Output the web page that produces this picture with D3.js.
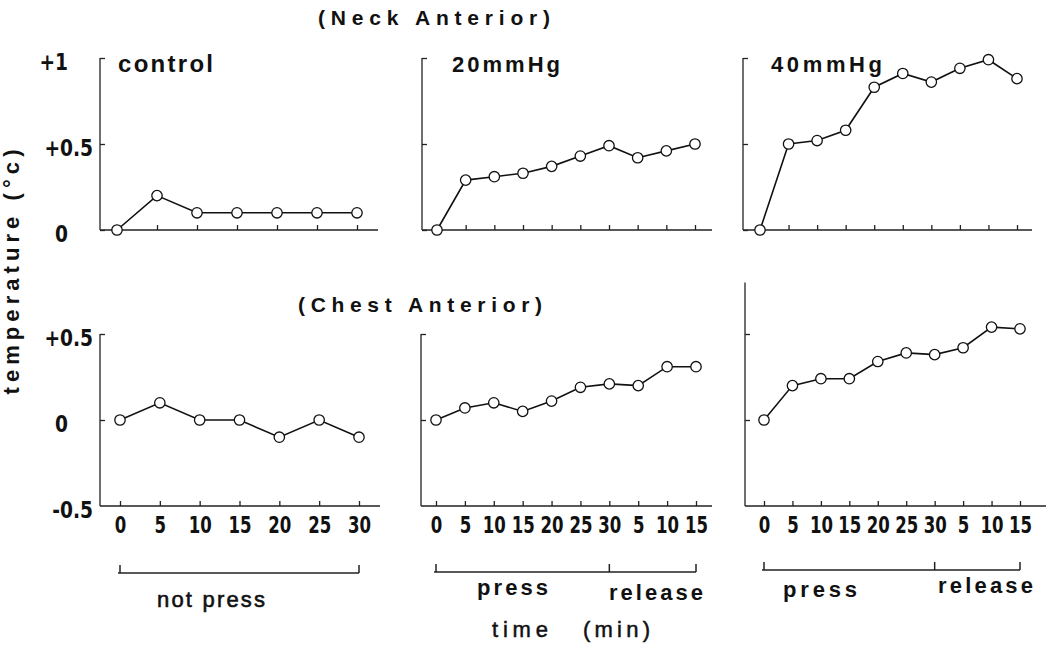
<!DOCTYPE html>
<html>
<head>
<meta charset="utf-8">
<script src="https://cdn.jsdelivr.net/npm/d3@7"></script>
<style>
  body { margin: 0; background: #fff; }
  text { font-family: "DejaVu Sans Condensed", "Liberation Sans", sans-serif; font-weight: bold; fill: #111; }
  .helv { font-family: "Liberation Sans", Arial, sans-serif; }
</style>
</head>
<body>
<div id="chart"></div>
<script>
// time ticks
const controlTimes = ["0","5","10","15","20","25","30"];
const pressTimes = ["0","5","10","15","20","25","30","5","10","15"];
const panelNames = ["control","20mmHg","40mmHg"];
const topTickLabels = ["0","+0.5","+1"];
const topTickValues = [0,0.5,1];
const bottomTickLabels = ["-0.5","0","+0.5"];
const bottomTickValues = [-0.5,0,0.5];

// neck anterior
const neckControl = [0,0.2,0.1,0.1,0.1,0.1,0.1];
const neck20 = [0,0.29,0.31,0.33,0.37,0.43,0.49,0.42,0.46,0.5];
const neck40 = [0,0.5,0.52,0.58,0.83,0.91,0.86,0.94,0.99,0.88];
// chest anterior
const chestControl = [0,0.1,0,0,-0.1,0,-0.1];
const chest20 = [0,0.07,0.1,0.05,0.11,0.19,0.21,0.2,0.31,0.31];
const chest40 = [0,0.2,0.24,0.24,0.34,0.39,0.38,0.42,0.54,0.53];

const w=1046, h=646;
const svg=d3.select("#chart").append("svg").attr("width", w).attr("height", h);
svg.append("rect").attr("width", w).attr("height", h).attr("fill", "#fff");

const yTop=d3.scaleLinear().domain([0,1]).range([230,58]);
const yBot=d3.scaleLinear().domain([-0.5,0.5]).range([506,334]);

const panels=[
  {row:"top", data:neckControl, times:controlTimes, ax:100, x0:117, x1:357, end:378, yTopVal:1},
  {row:"top", data:neck20, times:pressTimes, ax:422, x0:437, x1:695, end:712, yTopVal:1},
  {row:"top", data:neck40, times:pressTimes, ax:743, x0:760, x1:1017, end:1032, yTopVal:1},
  {row:"bot", data:chestControl, times:controlTimes, ax:100, x0:120, x1:359, end:380, yTopVal:0.5, by:573},
  {row:"bot", data:chest20, times:pressTimes, ax:421, x0:436, x1:696, end:712, yTopVal:0.5, by:572},
  {row:"bot", data:chest40, times:pressTimes, ax:745, x0:764, x1:1020, end:1046, yTopVal:0.8, by:570}
];

// label helper: fixed width text, spread by letter spacing
function label(x, y, txt, len, size, cls, adjust){
  return svg.append("text").attr("x",x).attr("y",y).attr("font-size",size)
    .attr("class",cls||null)
    .attr("textLength",len).attr("lengthAdjust",adjust||"spacing").text(txt);
}

panels.forEach((p,pi)=>{
  const y = p.row==="top" ? yTop : yBot;
  const base = p.row==="top" ? y(0) : y(-0.5);
  const n = p.data.length;
  const x = d3.scaleLinear().domain([0,n-1]).range([p.x0,p.x1]);
  const g = svg.append("g");

  // axes lines
  g.append("line").attr("x1",p.ax).attr("x2",p.ax).attr("y1",y(p.yTopVal)).attr("y2",base)
    .attr("stroke","#222").attr("stroke-width",1.3);
  g.append("line").attr("x1",p.ax).attr("x2",p.end).attr("y1",base).attr("y2",base)
    .attr("stroke","#222").attr("stroke-width",1.3);

  // y ticks pointing inward
  const yAxis=d3.axisRight(y).tickValues(p.row==="top"?topTickValues:bottomTickValues.filter(v=>v>-0.5))
    .tickSize(5).tickFormat("");
  g.append("g").attr("transform",`translate(${p.ax},0)`).call(yAxis)
    .call(a=>a.select(".domain").remove())
    .call(a=>a.selectAll("line").attr("stroke","#222").attr("stroke-width",1.3));

  // x ticks pointing up
  const xTicks=d3.axisTop(x).tickValues(d3.range(p.row==="top"?1:0,n)).tickSize(5).tickFormat("");
  g.append("g").attr("transform",`translate(0,${base})`).call(xTicks)
    .call(a=>a.select(".domain").remove())
    .call(a=>a.selectAll("line").attr("stroke","#222").attr("stroke-width",1.3));

  // x labels on bottom row
  if(p.row==="bot"){
    const xLab=d3.axisBottom(x).tickValues(d3.range(n)).tickSize(0).tickPadding(11)
      .tickFormat(i=>p.times[i]);
    g.append("g").attr("transform",`translate(0,${base})`).call(xLab)
      .call(a=>a.select(".domain").remove())
      .call(a=>a.selectAll("text").attr("font-size",23).attr("font-family",null)
        .attr("fill","#111").attr("transform","scale(0.8,1)"));
  }

  // line + circles
  const line=d3.line().x((d,i)=>x(i)).y(d=>y(d));
  g.append("path").datum(p.data).attr("d",line).attr("fill","none")
    .attr("stroke","#111").attr("stroke-width",1.6);
  g.selectAll("circle").data(p.data).enter().append("circle")
    .attr("cx",(d,i)=>x(i)).attr("cy",d=>y(d)).attr("r",5.2)
    .attr("fill","#fff").attr("stroke","#111").attr("stroke-width",1.3);

  // brackets under bottom row
  if(p.row==="bot"){
    const by = p.by;
    const bg=svg.append("g").attr("stroke","#222").attr("stroke-width",1.5).attr("fill","none");
    const marks = n>7 ? [0,6,n-1] : [0,n-1];
    bg.append("line").attr("x1",x(0)-2).attr("x2",x(n-1)).attr("y1",by).attr("y2",by);
    marks.forEach(i=>bg.append("line").attr("x1",x(i)).attr("x2",x(i)).attr("y1",by).attr("y2",by-8));
  }
});

// bracket labels
label(157,607,"not press",108,22,"helv").style("font-weight","normal").attr("stroke","#111").attr("stroke-width",0.6);
label(477,595,"press",71,22,"helv");
label(609,600,"release",94,22,"helv");
label(783,597,"press",74,22,"helv");
label(938,593,"release",95,22,"helv");

// y tick labels
function yLabel(t, yy){
  svg.append("text").attr("transform",`translate(${t.includes(".")?93:68},${yy+12}) scale(0.9,1)`)
    .attr("text-anchor","end").attr("font-size",23).text(t);
}
topTickValues.forEach((v,i)=>yLabel(topTickLabels[i], yTop(v)));
bottomTickValues.forEach((v,i)=>yLabel(bottomTickLabels[i], yBot(v)));

// panel names
const nameX=[118,452,771];
const nameLen=[95,108,111];
panelNames.forEach((t,i)=>label(nameX[i],72,t,nameLen[i],i===0?24:22,"helv"));

// section titles
label(318,25,"(Neck  Anterior)",232,21,"helv");
label(298,312,"(Chest  Anterior)",244,21,"helv");

// axis titles
svg.append("text").attr("class","helv").attr("transform","translate(19,272) rotate(-90)")
  .attr("text-anchor","middle").attr("font-size",22)
  .attr("textLength",245).attr("lengthAdjust","spacing").text("temperature (°c)");
label(492,637,"time",56,22,"helv").style("font-weight","normal").attr("stroke","#111").attr("stroke-width",0.5);
label(583,637,"(min)",67,22,"helv").style("font-weight","normal").attr("stroke","#111").attr("stroke-width",0.5);
</script>
</body>
</html>
